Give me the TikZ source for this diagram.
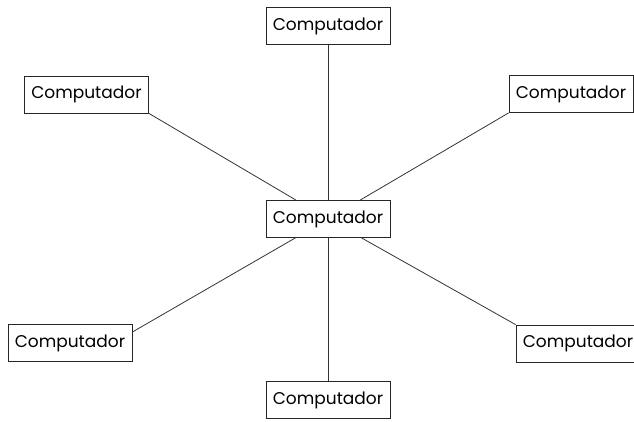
\documentclass[tikz,border=0pt]{standalone}
\usepackage{fontspec}
\setsansfont{Poppins}
\begin{document}
\begin{tikzpicture}[x=1pt, y=-1pt,
	pc/.style={draw=black!85, line width=0.8pt, fill=white, minimum width=124pt, minimum height=37pt, inner sep=0pt, font=\sffamily\fontsize{17}{20}\selectfont},
	kabel/.style={draw=black!80, line width=0.8pt}]

		%Rahmen
		\useasboundingbox (0,0) rectangle (634,421);

		%Computador central
		\node [pc] (c) at (328,219) {Computador};

		%Computadores em volta
		\node [pc] (t) at (328,26) {Computador};
		\node [pc] (tl) at (86.5,94.5) {Computador};
		\node [pc] (tr) at (571,94) {Computador};
		\node [pc] (bl) at (70,343) {Computador};
		\node [pc] (br) at (578,343.5) {Computador};
		\node [pc] (b) at (328,400) {Computador};

		%Verbindungen
		\draw [kabel] (c) -- (t);
		\draw [kabel] (c) -- (b);
		\draw [kabel] (tl.south east) -- (c);
		\draw [kabel] (tr.south west) -- (c);
		\draw [kabel] (bl.10) -- (c);
		\draw [kabel] (br.north west) -- (c);

	\end{tikzpicture}
\end{document}
